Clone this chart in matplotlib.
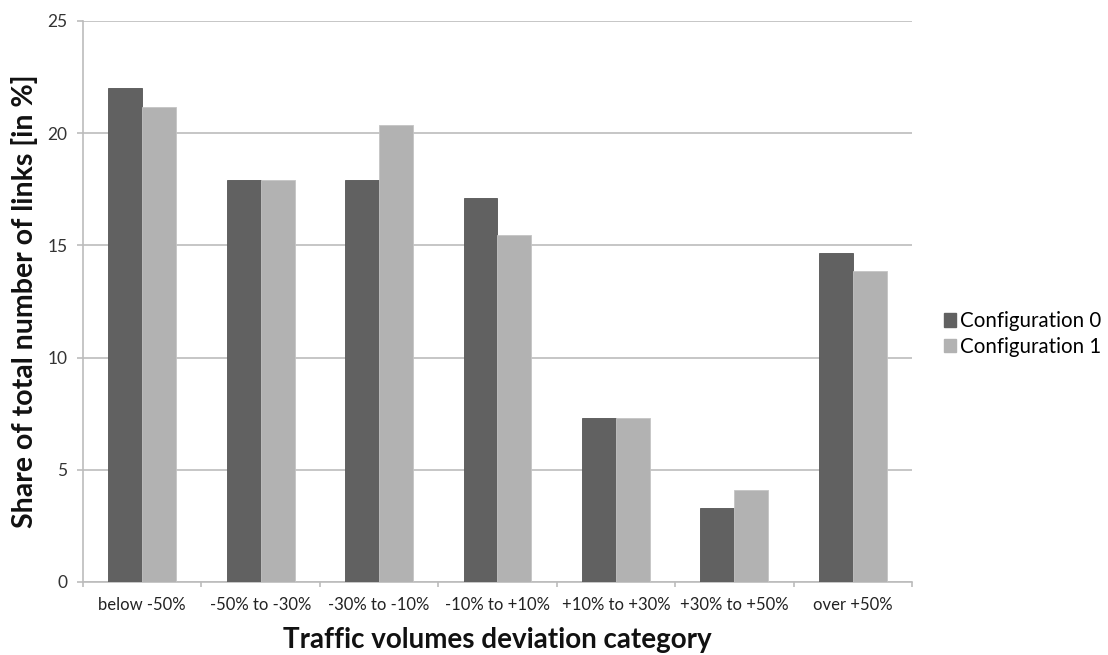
import matplotlib
matplotlib.use("Agg")
import matplotlib.pyplot as plt
import numpy as np
from matplotlib.patches import Patch

categories = ["below -50%", "-50% to -30%", "-30% to -10%", "-10% to +10%",
              "+10% to +30%", "+30% to +50%", "over +50%"]
config0 = [22.0, 17.9, 17.9, 17.1, 7.3, 3.3, 14.65]
config1 = [21.15, 17.9, 20.35, 15.45, 7.3, 4.1, 13.85]
series_names = ["Configuration 0", "Configuration 1"]
yticks = [0, 5, 10, 15, 20, 25]

plt.rcParams["font.family"] = ["Lato", "DejaVu Sans"]

fig = plt.figure(figsize=(11.08, 6.55), dpi=100)
ax = fig.add_axes([83 / 1108, 1 - 582 / 655, (912 - 83) / 1108, (582 - 21) / 655])

dark = "#616161"
light = "#b2b2b2"
x = np.arange(len(categories))
w = 0.287
ax.bar(x - w / 2, config0, width=w, color=dark, edgecolor="#555555", linewidth=0.6, zorder=3)
ax.bar(x + w / 2, config1, width=w, color=light, edgecolor="#c4c4c4", linewidth=0.6, zorder=3)

ax.set_xlim(-0.5, len(categories) - 0.5)
ax.set_ylim(0, 25)
ax.set_yticks(yticks)
ax.set_yticklabels([str(t) for t in yticks], fontsize=12.5, color="#333333")
ax.yaxis.grid(True, color="#bcbcbc", linewidth=1.2, zorder=0)
ax.set_axisbelow(True)

ax.set_xticks(x)
ax.set_xticklabels(categories, fontsize=12, color="#222222")
ax.tick_params(axis="x", length=0, pad=11)
ax.set_xticks(np.arange(-0.5, len(categories)), minor=True)
ax.tick_params(axis="x", which="minor", length=3.6, color="#bcbcbc", width=1.2)
ax.tick_params(axis="y", length=4.3, color="#bcbcbc", width=1.2, pad=7)

for side in ["top", "right"]:
    ax.spines[side].set_visible(False)
for side in ["left", "bottom"]:
    ax.spines[side].set_color("#bcbcbc")
    ax.spines[side].set_linewidth(1.2)

ax.set_xlabel("Traffic volumes deviation category", fontsize=20, fontweight="bold",
              color="#111111", labelpad=10)
ax.set_ylabel("Share of total number of links [in %]", fontsize=20.5, fontweight="bold",
              color="#111111", labelpad=6.5)

handles = [Patch(facecolor=dark, edgecolor=dark), Patch(facecolor=light, edgecolor=light)]
fig.legend(handles, series_names, loc="center left", bbox_to_anchor=(944 / 1108, 1 - 334 / 655),
           frameon=False, fontsize=14.8, handlelength=0.6, handleheight=0.6,
           handletextpad=0.2, labelspacing=0.27, borderpad=0, borderaxespad=0)

fig.savefig("out.png", dpi=100, facecolor="white")
